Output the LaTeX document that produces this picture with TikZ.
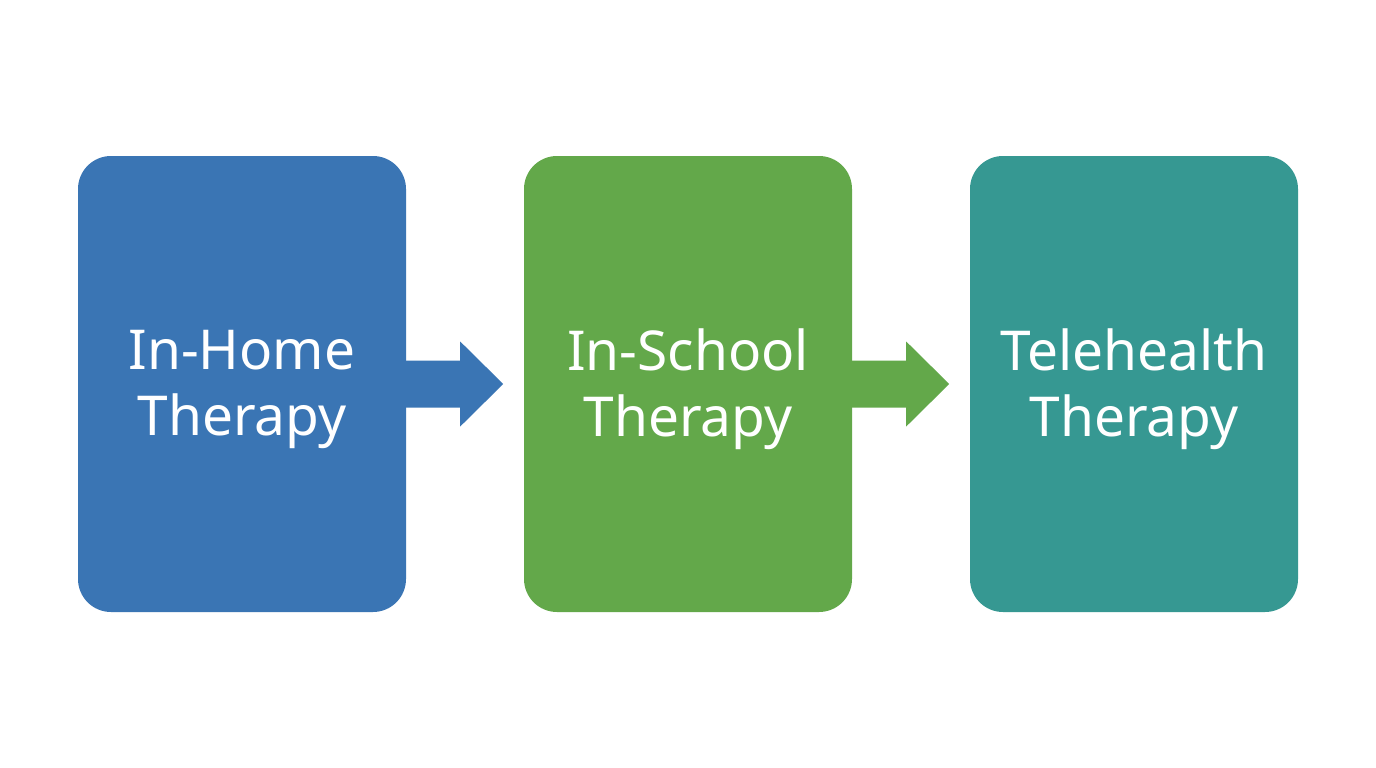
\documentclass[tikz,border=0pt]{standalone}
\usepackage{fontspec}
\setmainfont{Noto Sans}
\definecolor{cblue}{HTML}{3A75B4}
\definecolor{cgreen}{HTML}{63A84A}
\definecolor{cteal}{HTML}{369892}
\tikzset{
  stagebox/.style={rounded corners=33pt, minimum width=328pt, minimum height=456pt, inner sep=0pt,
    text=white, align=center, font=\fontsize{55}{66}\selectfont}
}
\begin{document}
\begin{tikzpicture}[x=1pt,y=-1pt]
\useasboundingbox (0,0) rectangle (1376,768);
\fill[white] (0,0) rectangle (1376,768);
\node[stagebox, fill=cblue] (b1) at (242,384) {};
\node[stagebox, fill=cgreen] (b2) at (688,384) {};
\node[stagebox, fill=cteal] (b3) at (1134,384) {};
\node[text=white, align=center, font=\fontsize{55}{66}\selectfont] (t1) at ([yshift=-5pt]b1.center) {In-Home\\Therapy};
\node[text=white, align=center, font=\fontsize{55}{66}\selectfont] (t2) at ([yshift=-5pt]b2.center) {In-School\\Therapy};
\node[text=white, align=center, font=\fontsize{55}{66}\selectfont] (t3) at ([yshift=-5pt]b3.center) {Telehealth\\Therapy};
\fill[cblue] ([yshift=23.5pt]b1.east) -- ++(54,0) -- ++(0,-19) -- ++(43,42.5) -- ++(-43,42.5) -- ++(0,-19) -- ++(-54,0) -- cycle;
\fill[cgreen] ([yshift=23.5pt]b2.east) -- ++(54,0) -- ++(0,-19) -- ++(43,42.5) -- ++(-43,42.5) -- ++(0,-19) -- ++(-54,0) -- cycle;
\end{tikzpicture}
\end{document}
